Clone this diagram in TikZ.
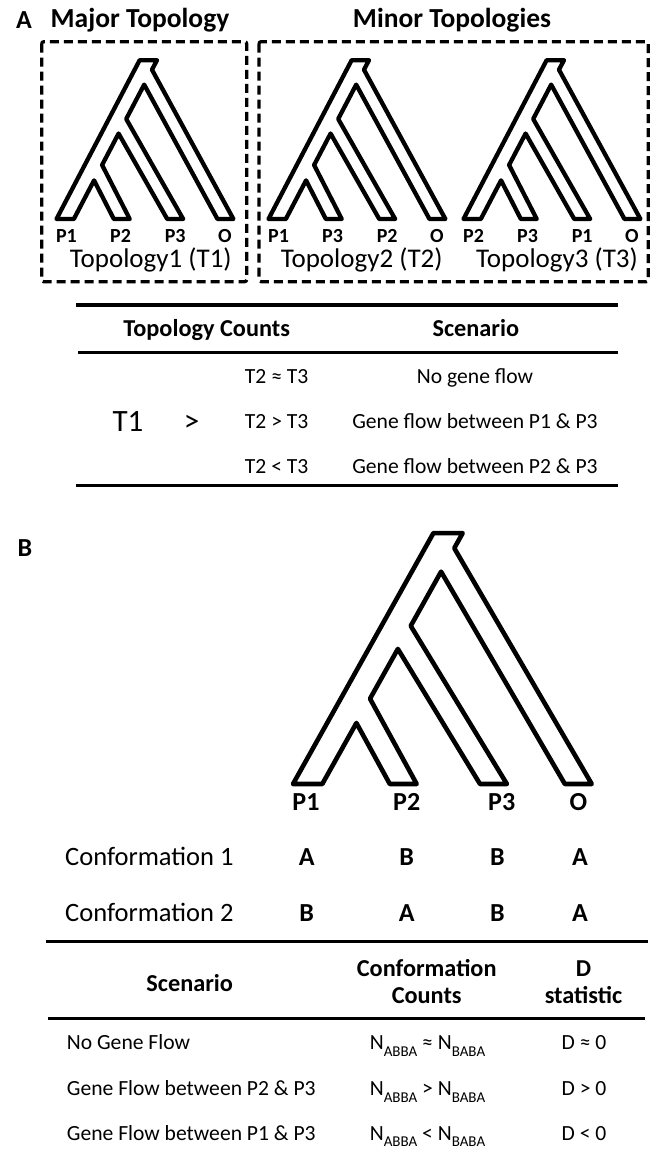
\documentclass[tikz,border=0pt]{standalone}
\usepackage{fontspec}
\setmainfont{Carlito}
\newcommand\fsz[1]{\fontsize{#1}{#1}\selectfont}
\newcommand\subsc[1]{\raisebox{-0.32em}{\fsz{15}#1}}
\newcommand\tubetree[5]{%
 \begin{scope}[shift={(#1,#2)},xscale=#3,yscale=-#4]
  \coordinate (tBL) at (0,0);
  \coordinate (tTL) at (0.47,1);
  \coordinate (tTR) at (0.568,1);
  \coordinate (tJO) at (0.5398,0.94);
  \coordinate (tOR) at (1,0);
  \coordinate (tOL) at (0.91,0);
  \coordinate (tOLb) at (0.4498,0.94);
  \coordinate (tSR) at (0.098,0);
  \coordinate (tSRt) at (0.568,1);
  \coordinate (tJ3) at (0.3941,0.63);
  \coordinate (t3R) at (0.716,0);
  \coordinate (t3L) at (0.626,0);
  \coordinate (tJ3b) at (0.3041,0.63);
  \coordinate (tJ2) at (0.2578,0.34);
  \coordinate (t2R) at (0.414,0);
  \coordinate (t2L) at (0.324,0);
  \coordinate (tJ2b) at (0.1678,0.34);
  \draw[treeline,line width=#5] (tBL) -- (tTL) -- (tTR) -- (tJO) -- (tOR) -- (tOL)
   -- (intersection of tOL--tOLb and tSR--tSRt) -- (tJ3) -- (t3R) -- (t3L)
   -- (intersection of t3L--tJ3b and tSR--tSRt) -- (tJ2) -- (t2R) -- (t2L)
   -- (intersection of t2L--tJ2b and tSR--tSRt) -- (tSR) -- cycle;
 \end{scope}}
\begin{document}
\begin{tikzpicture}[x=1pt,y=-1pt,
  treeline/.style={line join=round,black},
  dbox/.style={line width=3.2pt,dash pattern=on 9pt off 5pt,rounded corners=2pt},
  rule/.style={line width=3.5pt},
  panel/.style={font=\fsz{26}\bfseries,anchor=base},
  head/.style={font=\fsz{27.5}\bfseries,anchor=base},
  tipA/.style={font=\fsz{20}\bfseries,anchor=base},
  toplab/.style={font=\fsz{27},anchor=base},
  th/.style={font=\fsz{24.3}\bfseries,anchor=base,align=center},
  td/.style={font=\fsz{21.6},anchor=base},
  big/.style={font=\fsz{31},anchor=base},
  tipB/.style={font=\fsz{26}\bfseries,anchor=base},
  conf/.style={font=\fsz{26.5},anchor=base west},
  inner sep=0pt]
\useasboundingbox[fill=white] (0,0) rectangle (654,1149);

% ---------- panel A ----------
\node[panel] (lA) at (24,28) {A};
\node[head] (hmaj) at (140,27.5) {Major Topology};
\node[head] (hmin) at (452,27.5) {Minor Topologies};
\draw[dbox] (41.7,41.7) rectangle (246.7,281.7);
\draw[dbox] (259,41.7) rectangle (648.3,281.7);

\tubetree{56.5}{219}{177}{161.5}{4.3pt}
\tubetree{268.5}{219}{177}{161.5}{4.3pt}
\tubetree{463.5}{219}{177}{161.5}{4.3pt}

% tips T1
\node[tipA] (a1) at (66.5,242.5) {P1};
\node[tipA] (a2) at (120.6,242.5) {P2};
\node[tipA] (a3) at (175.2,242.5) {P3};
\node[tipA] (a4) at (225.0,242.5) {O};
% tips T2
\node[tipA] (b1) at (278.5,242.5) {P1};
\node[tipA] (b2) at (332.6,242.5) {P3};
\node[tipA] (b3) at (387.2,242.5) {P2};
\node[tipA] (b4) at (437.0,242.5) {O};
% tips T3
\node[tipA] (c1) at (473.5,242.5) {P2};
\node[tipA] (c2) at (527.6,242.5) {P3};
\node[tipA] (c3) at (582.2,242.5) {P1};
\node[tipA] (c4) at (632.0,242.5) {O};
\node[toplab] (t1) at (150.8,267.5) {Topology1 (T1)};
\node[toplab] (t2) at (361.7,267.5) {Topology2 (T2)};
\node[toplab] (t3) at (557,267.5) {Topology3 (T3)};

% table A
\draw[rule] (76,305) -- (618,305);
\draw[rule] (78,352.3) -- (618,352.3);
\draw[rule] (76,485.7) -- (618,485.7);
\node[th] (ha1) at (206.7,336) {Topology Counts};
\node[th] (ha2) at (475.8,336) {Scenario};
\node[big] (T1) at (128,431) {T1};
\node[big] (gt) at (191.7,431) {>};
\node[td] (r1a) at (276.7,383.5) {T2 ≈ T3};
\node[td] (r2a) at (276.7,428.5) {T2 > T3};
\node[td] (r3a) at (276.7,473.5) {T2 < T3};
\node[td] (r1b) at (475,383.5) {No gene flow};
\node[td] (r2b) at (475,428.5) {Gene flow between P1 \& P3};
\node[td] (r3b) at (475,473.5) {Gene flow between P2 \& P3};

% ---------- panel B ----------
\node[panel] (lB) at (25,556) {B};
\tubetree{293}{784}{299}{251}{4.6pt}
\node[tipB] (p1) at (306,810) {P1};
\node[tipB] (p2) at (406.7,810) {P2};
\node[tipB] (p3) at (501.7,810) {P3};
\node[tipB] (p4) at (578.3,810) {O};

\node[conf] (cf1) at (65,865) {Conformation 1};
\node[conf] (cf2) at (65,921.7) {Conformation 2};
\node[tipB] (x11) at (306.7,865) {A};
\node[tipB] (x12) at (406.7,865) {B};
\node[tipB] (x13) at (497.5,865) {B};
\node[tipB] (x14) at (580,865) {A};
\node[tipB] (x21) at (306.7,921.7) {B};
\node[tipB] (x22) at (406.7,921.7) {A};
\node[tipB] (x23) at (497.5,921.7) {B};
\node[tipB] (x24) at (580,921.7) {A};

\draw[rule] (46,941.7) -- (648,941.7);
\draw[rule] (48,1018.3) -- (645,1018.3);
\node[th] (hb1) at (189.7,991) {Scenario};
\node[th] (hb2) at (426.7,976) {Conformation};
\node[th] (hb2b) at (426.7,1003) {Counts};
\node[th] (hb3) at (583.5,976) {D};
\node[th] (hb3b) at (583.5,1003) {statistic};
\node[td,anchor=base west] (s1) at (66.7,1049.5) {No Gene Flow};
\node[td,anchor=base west] (s2) at (66.7,1095.5) {Gene Flow between P2 \& P3};
\node[td,anchor=base west] (s3) at (66.7,1140) {Gene Flow between P1 \& P3};
\node[td] (n1) at (427.5,1049.5) {N\subsc{ABBA} ≈ N\subsc{BABA}};
\node[td] (n2) at (427.5,1095.5) {N\subsc{ABBA} > N\subsc{BABA}};
\node[td] (n3) at (427.5,1140) {N\subsc{ABBA} < N\subsc{BABA}};
\node[td] (d1) at (584,1049.5) {D ≈ 0};
\node[td] (d2) at (584,1095.5) {D > 0};
\node[td] (d3) at (584,1140) {D < 0};
\end{tikzpicture}
\end{document}
